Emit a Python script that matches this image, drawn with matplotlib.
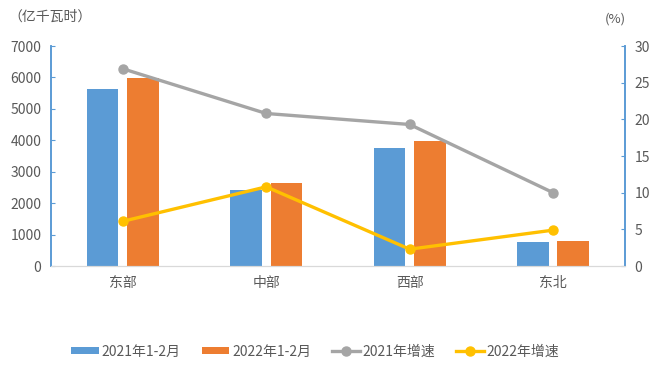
import numpy as np
import matplotlib
matplotlib.use("Agg")
import matplotlib.pyplot as plt

plt.rcParams['font.family'] = ['Noto Sans CJK SC', 'DejaVu Sans']

regions = ["东部", "中部", "西部", "东北"]
use_2021 = [5640, 2420, 3760, 770]
use_2022 = [5990, 2650, 3980, 790]
growth_2021 = [26.9, 20.8, 19.3, 10.0]
growth_2022 = [6.1, 10.8, 2.3, 4.9]

BLUE, ORANGE, GRAY, GOLD = "#5B9BD5", "#ED7D31", "#A5A5A5", "#FFC000"
TXT = "#595959"

fig = plt.figure(figsize=(6.62, 3.68), dpi=100)
ax = fig.add_axes([0.077, 0.277, 0.867, 0.598])
ax2 = ax.twinx()

x = np.arange(len(regions))
w = 0.222
off = 0.141
ax.bar(x - off, use_2021, w, color=BLUE, label="2021年1-2月", zorder=2)
ax.bar(x + off, use_2022, w, color=ORANGE, label="2022年1-2月", zorder=2)

ax2.plot(x, growth_2021, color=GRAY, lw=2.4, marker="o", ms=6.5, label="2021年增速")
ax2.plot(x, growth_2022, color=GOLD, lw=2.4, marker="o", ms=6.5, label="2022年增速")

ax.set_xlim(-0.5, 3.5)
ax.set_ylim(0, 7000)
ax.set_yticks(range(0, 7001, 1000))
ax2.set_ylim(0, 30)
ax2.set_yticks(range(0, 31, 5))

for a in (ax, ax2):
    a.spines["top"].set_visible(False)
    a.spines["bottom"].set_color("#D9D9D9")
    a.spines["left"].set_color(BLUE)
    a.spines["right"].set_color(BLUE)
    a.spines["left"].set_linewidth(1.2)
    a.spines["right"].set_linewidth(1.2)

ax.tick_params(axis="y", direction="in", length=3, color=BLUE, labelcolor=TXT, labelsize=10, pad=7)
ax2.tick_params(axis="y", direction="in", length=3, color=BLUE, labelcolor=TXT, labelsize=10, pad=7)
ax.tick_params(axis="x", length=0, labelcolor=TXT, labelsize=10, pad=7)
ax.set_xticks(x)
ax.set_xticklabels(regions)

fig.text(0.012, 0.955, "（亿千瓦时）", color=TXT, fontsize=10, va="center", ha="left")
fig.text(0.929, 0.948, "(%)", color=TXT, fontsize=9.5, va="center", ha="center")

h1, l1 = ax.get_legend_handles_labels()
h2, l2 = ax2.get_legend_handles_labels()
fig.legend(h1 + h2, l1 + l2, loc="center", bbox_to_anchor=(0.476, 0.045), ncol=4,
           frameon=False, fontsize=10, labelcolor=TXT, handlelength=2.0,
           handletextpad=0.2, columnspacing=1.5, handleheight=0.5)

fig.savefig("out.png", dpi=100)
